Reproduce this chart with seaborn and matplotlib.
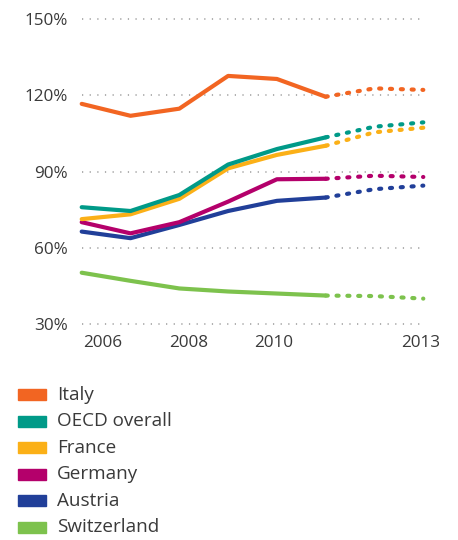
import pandas as pd
import matplotlib
matplotlib.use("Agg")
import matplotlib.pyplot as plt
import seaborn as sns

sns.set_style("white")
plt.rcParams["font.family"] = ["Open Sans", "DejaVu Sans"]

# Data read off the reference (share in %), 8 observation points,
# the last two points are projections (dotted)
periods = [0, 1, 2, 3, 4, 5, 6, 7]
n_actual = 6

countries = ["Italy", "OECD overall", "France", "Germany", "Austria", "Switzerland"]
italy = [116.7, 112.0, 114.8, 127.7, 126.5, 119.5, 122.8, 122.2]
oecd = [76.0, 74.5, 80.8, 92.8, 98.9, 103.5, 107.7, 109.4]
france = [71.3, 73.2, 79.3, 91.3, 96.6, 100.2, 105.5, 107.3]
germany = [70.1, 65.7, 70.1, 78.2, 87.0, 87.2, 88.4, 87.9]
austria = [66.4, 63.8, 69.0, 74.5, 78.5, 79.8, 83.1, 84.5]
switzerland = [50.2, 47.0, 44.0, 42.8, 42.0, 41.2, 41.0, 40.0]

colors = ["#F26522", "#009A88", "#FBB017", "#B4006B", "#213F99", "#7DC24D"]

x_tick_pos = [0.44, 2.2, 3.94, 6.95]
x_tick_labels = ["2006", "2008", "2010", "2013"]
y_ticks = [30, 60, 90, 120, 150]

series = [italy, oecd, france, germany, austria, switzerland]
rows = []
for name, vals in zip(countries, series):
    for p, v in zip(periods, vals):
        rows.append({"period": p, "value": v, "country": name})
df = pd.DataFrame(rows)
actual = df[df["period"] <= n_actual - 1]
projected = df[df["period"] >= n_actual - 1]
palette = dict(zip(countries, colors))

fig = plt.figure(figsize=(4.58, 5.4), dpi=100)
ax = fig.add_axes([81.7 / 458, 1 - 324 / 540, (423.3 - 81.7) / 458, (324 - 19.3) / 540])

# dotted grid
for y in y_ticks:
    ax.axhline(y, color="#9a9a9a", lw=1.1, linestyle=(0, (0.8, 4.2)), zorder=0, clip_on=False)

# draw in reverse so Italy/OECD end up on top
order = countries[::-1]
sns.lineplot(data=actual, x="period", y="value", hue="country", hue_order=order,
             palette=palette, lw=3, legend=False, ax=ax, estimator=None,
             solid_capstyle="round", solid_joinstyle="round")
sns.lineplot(data=projected, x="period", y="value", hue="country", hue_order=order,
             palette=palette, lw=3, legend=False, ax=ax, estimator=None,
             linestyle=(0, (0.5, 2.1)), dash_capstyle="round")
for ln in ax.lines:
    ln.set_clip_on(False)

ax.set_xlim(0, 7)
ax.set_ylim(30, 150)
ax.set_yticks(y_ticks)
ax.set_yticklabels([f"{v}%" for v in y_ticks])
ax.set_xticks(x_tick_pos)
ax.set_xticklabels(x_tick_labels)
ax.tick_params(axis="y", length=0, pad=10, labelsize=12.3, labelcolor="#3a3a3a")
ax.tick_params(axis="x", length=0, pad=8, labelsize=12.3, labelcolor="#3a3a3a")
ax.set_xlabel("")
ax.set_ylabel("")
sns.despine(ax=ax, left=True, bottom=True)
ax.patch.set_alpha(0)

# legend drawn as coloured blocks
for i, (name, col) in enumerate(zip(countries, colors)):
    yc = 394.5 + i * 26.6
    fig.patches.append(plt.Rectangle((18 / 458, 1 - (yc + 5.5) / 540), 28 / 458, 11 / 540,
                                     transform=fig.transFigure, color=col, figure=fig))
    fig.text(57 / 458, 1 - yc / 540, name, fontsize=13.6, color="#3a3a3a", va="center", ha="left")

fig.savefig("out.png", dpi=100)
